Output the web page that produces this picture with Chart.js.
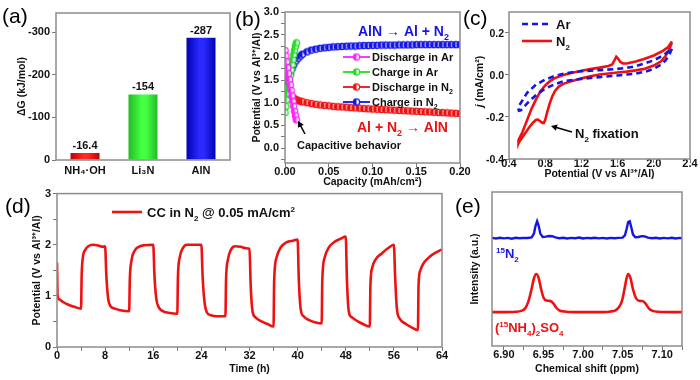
<!DOCTYPE html>
<html><head><meta charset="utf-8">
<script src="https://cdn.jsdelivr.net/npm/chart.js@4.4.1/dist/chart.umd.min.js"></script>
<style>
html,body{margin:0;padding:0;background:#fff;}
#wrap{position:relative;width:700px;height:380px;overflow:hidden;background:#fff;}
canvas{position:absolute;}
.pl{position:absolute;font:21px "Liberation Sans",Arial,sans-serif;line-height:1;color:#000;pointer-events:none;}
.tl{position:absolute;font:bold 10.5px "Liberation Sans",Arial,sans-serif;line-height:14px;height:14px;color:#111;text-align:right;white-space:nowrap;z-index:5;}
</style></head><body>
<div id="wrap">
<canvas id="ca" style="left:0;top:0" width="236" height="185"></canvas>
<canvas id="cb" style="left:236px;top:0" width="240" height="192"></canvas>
<canvas id="cc" style="left:468px;top:0" width="232" height="192"></canvas>
<canvas id="cd" style="left:0;top:185px" width="460" height="195"></canvas>
<canvas id="ce" style="left:460px;top:185px" width="240" height="195"></canvas>
<div class="pl" style="left:2px;top:5px">(a)</div>
<div class="pl" style="left:235px;top:8px">(b)</div>
<div class="pl" style="left:463px;top:7px">(c)</div>
<div class="pl" style="left:5px;top:195px">(d)</div>
<div class="pl" style="left:455px;top:195px">(e)</div>
</div>
<script>
// ---------- (a) formation energies ----------
const compounds = ['NH₄·OH', 'Li₃N', 'AlN'];
const deltaG = [-16.4, -154, -287];
const deltaGLabels = ['-16.4', '-154', '-287'];

// ---------- (b) galvanostatic curves ----------
const capAr = [0, 0.001, 0.002, 0.003, 0.004, 0.005, 0.006, 0.007, 0.008, 0.009, 0.010, 0.011, 0.012, 0.013];
const dischargeAr = [2.15, 2.03, 1.90, 1.77, 1.64, 1.51, 1.39, 1.27, 1.15, 1.03, 0.92, 0.81, 0.71, 0.62];
const chargeAr = [0.78, 0.92, 1.06, 1.20, 1.34, 1.47, 1.60, 1.72, 1.84, 1.95, 2.06, 2.16, 2.25, 2.32];
const capN2 = [0, 0.0015, 0.003, 0.0045, 0.006, 0.008, 0.01, 0.0125, 0.015, 0.0175, 0.02,
  0.025, 0.03, 0.035, 0.04, 0.045, 0.05, 0.055, 0.06, 0.065, 0.07,
  0.075, 0.08, 0.085, 0.09, 0.095, 0.1,
  0.105, 0.11, 0.115, 0.12, 0.125, 0.13, 0.135, 0.14, 0.145, 0.15,
  0.155, 0.16, 0.165, 0.17, 0.175, 0.18, 0.185, 0.19, 0.195, 0.2];
const dischargeN2 = [1.50, 1.36, 1.27, 1.21, 1.17, 1.13, 1.10, 1.07, 1.05, 1.03, 1.02,
  1.00, 0.98, 0.965, 0.95, 0.94, 0.93, 0.92, 0.91, 0.905, 0.90,
  0.89, 0.885, 0.88, 0.87, 0.865, 0.86,
  0.855, 0.85, 0.845, 0.84, 0.835, 0.83, 0.825, 0.82, 0.815, 0.81,
  0.805, 0.80, 0.795, 0.79, 0.785, 0.78, 0.775, 0.77, 0.765, 0.76];
const chargeN2 = [1.18, 1.32, 1.45, 1.56, 1.65, 1.75, 1.84, 1.92, 1.98, 2.03, 2.07,
  2.12, 2.16, 2.18, 2.20, 2.21, 2.22, 2.23, 2.235, 2.24, 2.245,
  2.25, 2.25, 2.255, 2.26, 2.26, 2.265,
  2.265, 2.27, 2.27, 2.27, 2.27, 2.275, 2.275, 2.275, 2.275, 2.28,
  2.28, 2.28, 2.28, 2.28, 2.28, 2.28, 2.28, 2.28, 2.28, 2.28];
const bTicksY = [0, 0.5, 1, 1.5, 2, 2.5, 3];

// ---------- (c) cyclic voltammetry ----------
const cTicksY = [-0.4, -0.2, 0, 0.2];
const cvArE = [2.2, 2.17, 2.13, 2.08, 2.0, 1.9, 1.8, 1.7, 1.6, 1.5, 1.4, 1.3, 1.2, 1.1, 1.0, 0.9, 0.8, 0.7, 0.65, 0.6, 0.56, 0.53, 0.51,
  0.5, 0.52, 0.55, 0.6, 0.7, 0.8, 0.9, 1.0, 1.1, 1.2, 1.4, 1.6, 1.7, 1.8, 1.9, 2.0, 2.1, 2.2];
const cvArJ = [0.125, 0.095, 0.07, 0.05, 0.03, 0.015, 0.007, 0.002, -0.002, -0.006, -0.01, -0.014, -0.019, -0.024, -0.03, -0.045, -0.065, -0.095, -0.115, -0.135, -0.155, -0.168, -0.17,
  -0.155, -0.14, -0.12, -0.085, -0.045, -0.022, -0.005, 0.006, 0.013, 0.018, 0.023, 0.029, 0.034, 0.042, 0.055, 0.07, 0.092, 0.125];
const cvN2E = [2.2, 2.17, 2.13, 2.08, 2.0, 1.9, 1.8, 1.7, 1.6, 1.5, 1.4, 1.3, 1.2, 1.1, 1.0, 0.95, 0.91, 0.88, 0.85, 0.82, 0.8, 0.785, 0.77, 0.75, 0.72, 0.7, 0.67, 0.63, 0.59, 0.55, 0.51, 0.5,
  0.51, 0.55, 0.6, 0.65, 0.7, 0.75, 0.8, 0.85, 0.9, 1.0, 1.1, 1.2, 1.3, 1.4, 1.5, 1.54, 1.565, 1.585, 1.605, 1.63, 1.66, 1.7, 1.8, 1.9, 2.0, 2.1, 2.16, 2.2];
const cvN2J = [0.155, 0.12, 0.09, 0.065, 0.045, 0.03, 0.022, 0.016, 0.012, 0.007, 0.002, -0.006, -0.016, -0.028, -0.042, -0.055, -0.075, -0.1, -0.135, -0.18, -0.215, -0.228, -0.228, -0.222, -0.212, -0.213, -0.225, -0.245, -0.27, -0.295, -0.32, -0.325,
  -0.31, -0.27, -0.215, -0.16, -0.115, -0.076, -0.05, -0.03, -0.016, 0.0, 0.011, 0.02, 0.028, 0.035, 0.043, 0.05, 0.07, 0.087, 0.078, 0.062, 0.055, 0.055, 0.064, 0.077, 0.093, 0.115, 0.133, 0.16];

// ---------- (d) constant-current cycling ----------
const ccTime = [0, 0.1, 0.4, 1, 2, 3, 4,
  4.1, 4.3, 4.7, 5.2, 6, 7, 7.6, 8,
  8.2, 8.5, 8.9, 9.6, 10.5, 12,
  12.1, 12.4, 12.9, 13.6, 14.5, 16,
  16.2, 16.5, 16.9, 17.6, 18.5, 20,
  20.1, 20.4, 20.9, 21.6, 23, 24,
  24.2, 24.5, 24.9, 25.6, 26.5, 28,
  28.1, 28.4, 28.9, 29.6, 30.5, 31.5, 32,
  32.2, 32.5, 33, 34, 35, 36,
  36.1, 36.5, 37.2, 38.2, 39.2, 40,
  40.2, 40.5, 41, 42, 43, 44,
  44.1, 44.5, 45.2, 46.2, 47.2, 48,
  48.2, 48.5, 49, 50, 51, 52,
  52.1, 52.4, 53, 54, 55, 56,
  56.2, 56.5, 57, 58, 59, 60,
  60.1, 60.4, 61, 62, 63, 64];
const ccPotential = [1.65, 1.0, 0.93, 0.88, 0.82, 0.78, 0.75,
  1.4, 1.75, 1.9, 1.97, 2.0, 1.98, 1.96, 1.97,
  1.4, 0.95, 0.8, 0.75, 0.72, 0.7,
  1.3, 1.7, 1.88, 1.96, 1.99, 2.0,
  1.4, 0.95, 0.78, 0.7, 0.67, 0.65,
  1.35, 1.75, 1.93, 2.0, 2.0, 2.0,
  1.4, 0.9, 0.68, 0.62, 0.6, 0.6,
  1.3, 1.7, 1.9, 1.97, 1.96, 1.93, 1.92,
  1.2, 0.7, 0.58, 0.5, 0.45, 0.4,
  1.3, 1.75, 1.95, 2.05, 2.08, 2.1,
  1.3, 0.75, 0.6, 0.52, 0.48, 0.46,
  1.3, 1.75, 1.95, 2.06, 2.12, 2.16,
  1.3, 0.7, 0.58, 0.5, 0.44, 0.4,
  1.2, 1.55, 1.72, 1.83, 1.93, 2.0,
  1.4, 0.75, 0.55, 0.45, 0.38, 0.33,
  1.2, 1.5, 1.65, 1.77, 1.85, 1.91];

// ---------- (e) 1H NMR ----------
const shiftN2 = [6.885, 6.89, 6.895, 6.90, 6.905, 6.91, 6.915, 6.92, 6.925, 6.93, 6.935, 6.938, 6.940, 6.942, 6.944, 6.946, 6.949, 6.953, 6.957, 6.961, 6.965,
  6.97, 6.975, 6.98, 6.985, 6.99, 6.995, 7.0, 7.005, 7.01, 7.015, 7.02, 7.025, 7.03, 7.035, 7.04, 7.045, 7.05, 7.053, 7.055, 7.057, 7.059, 7.061, 7.063,
  7.066, 7.07, 7.074, 7.078, 7.082, 7.087, 7.092, 7.097, 7.102, 7.107, 7.112, 7.117, 7.122, 7.125];
const intensityN2 = [7.02, 6.98, 7.03, 6.99, 7.02, 6.97, 7.03, 7.0, 7.02, 7.01, 7.05, 7.3, 7.8, 8.1, 7.8, 7.3, 7.08, 7.1, 7.14, 7.13, 7.05,
  7.0, 7.03, 6.98, 7.02, 7.0, 7.04, 6.98, 7.02, 7.0, 7.03, 6.99, 7.02, 6.98, 7.02, 7.0, 7.02, 7.04, 7.2, 7.6, 8.05, 8.1, 7.7, 7.25,
  7.06, 7.08, 7.13, 7.12, 7.04, 7.0, 7.03, 6.98, 7.02, 6.99, 7.03, 6.98, 7.02, 7.0];
const shiftNH4 = [6.885, 6.90, 6.915, 6.922, 6.927, 6.931, 6.935, 6.938, 6.941, 6.944, 6.947, 6.950, 6.954, 6.958, 6.962, 6.966, 6.970, 6.976, 6.99,
  7.01, 7.025, 7.035, 7.041, 7.045, 7.049, 7.052, 7.055, 7.057, 7.060, 7.063, 7.067, 7.071, 7.075, 7.079, 7.083, 7.088, 7.095, 7.11, 7.125];
const intensityNH4 = [2.2, 2.2, 2.22, 2.28, 2.45, 2.9, 3.7, 4.4, 4.68, 4.4, 3.7, 3.15, 2.95, 2.93, 2.8, 2.5, 2.32, 2.24, 2.2,
  2.2, 2.2, 2.24, 2.32, 2.5, 2.9, 3.6, 4.4, 4.68, 4.4, 3.7, 3.1, 2.93, 2.92, 2.75, 2.45, 2.28, 2.22, 2.2, 2.2];

// ================= helpers =================
const FAM = '"Liberation Sans", Arial, Helvetica, sans-serif';
Chart.defaults.font.family = FAM;
Chart.defaults.font.size = 11;
Chart.defaults.font.weight = 'bold';
Chart.defaults.color = '#111';
Chart.defaults.animation = false;
Chart.defaults.plugins.legend.display = false;
Chart.defaults.plugins.tooltip.enabled = false;

const RED = '#ee1111', BLUE = '#1515e6', GREEN = '#22dd22', MAG = '#ff22ff';
const pts = (xs, ys) => xs.map((x, i) => ({x: x, y: ys[i]}));
const near = (v, s) => Math.abs(v / s - Math.round(v / s)) < 1e-6;
const gridT = {display: true, drawOnChartArea: false, drawTicks: true, tickLength: 4, color: '#777', lineWidth: 1};
const noBorder = {display: false};

Chart.register({id: 'frame', afterDatasetsDraw(chart) {
  const a = chart.chartArea, c = chart.ctx;
  c.save(); c.strokeStyle = '#8c8c8c'; c.lineWidth = 1.5;
  c.strokeRect(a.left, a.top, a.right - a.left, a.bottom - a.top); c.restore();
}});

function parse(s) {
  const out = []; const re = /(_\{[^}]*\}|\^\{[^}]*\})/;
  s.split(re).forEach(p => {
    if (!p) return;
    if (p.startsWith('_{')) out.push([p.slice(2, -1), 1]);
    else if (p.startsWith('^{')) out.push([p.slice(2, -1), 2]);
    else out.push([p, 0]);
  });
  return out;
}
function rich(ctx, x, y, s, size, color, align) {
  const parts = parse(s);
  const f = m => 'bold ' + (m ? Math.round(size * 0.65) : size) + 'px ' + FAM;
  let w = 0;
  parts.forEach(([t, m]) => { ctx.font = f(m); w += ctx.measureText(t).width; });
  let cx = align === 'center' ? x - w / 2 : align === 'right' ? x - w : x;
  ctx.save(); ctx.fillStyle = color; ctx.textBaseline = 'alphabetic'; ctx.textAlign = 'left';
  parts.forEach(([t, m]) => {
    ctx.font = f(m);
    const dy = m === 1 ? size * 0.28 : m === 2 ? -size * 0.4 : 0;
    ctx.fillText(t, cx, y + dy); cx += ctx.measureText(t).width;
  });
  ctx.restore();
}
function arrow(ctx, x1, y1, x2, y2) {
  const a = Math.atan2(y2 - y1, x2 - x1), h = 6;
  ctx.save(); ctx.strokeStyle = '#000'; ctx.fillStyle = '#000'; ctx.lineWidth = 1.5;
  ctx.beginPath(); ctx.moveTo(x1, y1); ctx.lineTo(x2 - h * 0.8 * Math.cos(a), y2 - h * 0.8 * Math.sin(a)); ctx.stroke();
  ctx.beginPath(); ctx.moveTo(x2, y2);
  ctx.lineTo(x2 - h * Math.cos(a) + h * 0.55 * Math.sin(a), y2 - h * Math.sin(a) - h * 0.55 * Math.cos(a));
  ctx.lineTo(x2 - h * Math.cos(a) - h * 0.55 * Math.sin(a), y2 - h * Math.sin(a) + h * 0.55 * Math.cos(a));
  ctx.closePath(); ctx.fill(); ctx.restore();
}
function halfMarker(color) {
  const c = document.createElement('canvas'); c.width = 9; c.height = 9;
  const g = c.getContext('2d'), r = 3.2;
  g.beginPath(); g.arc(4.5, 4.5, r, 0, Math.PI * 2); g.fillStyle = '#fff'; g.fill();
  g.beginPath(); g.moveTo(4.5, 4.5 - r); g.arc(4.5, 4.5, r, -Math.PI / 2, Math.PI / 2, true); g.closePath(); g.fillStyle = color; g.fill();
  g.beginPath(); g.arc(4.5, 4.5, r, 0, Math.PI * 2); g.strokeStyle = color; g.lineWidth = 1.2; g.stroke();
  return c;
}
const yFit = w => ({afterFit: s => { s.width = w; }});
const xFit = h => ({afterFit: s => { s.height = h; }});

// ================= (a) =================
const barGrad = [['#b80000', '#ff2a2a'], ['#22b822', '#44ff44'], ['#0000b0', '#2a2aff']];
new Chart(document.getElementById('ca'), {
  type: 'bar',
  data: {labels: compounds, datasets: [{data: deltaG, barPercentage: 0.5, categoryPercentage: 1,
    backgroundColor: ctx => {
      const ch = ctx.chart, sx = ch.scales && ch.scales.x;
      const cols = barGrad[ctx.dataIndex % 3];
      if (!ch.chartArea || !sx) return cols[1];
      const xc = sx.getPixelForValue(ctx.dataIndex);
      const g = ch.ctx.createLinearGradient(xc - 15, 0, xc + 15, 0);
      g.addColorStop(0, cols[0]); g.addColorStop(0.45, cols[1]); g.addColorStop(0.6, cols[1]); g.addColorStop(1, cols[0]);
      return g;
    }}]},
  options: {responsive: false, layout: {padding: {left: 0, top: 13, right: 6, bottom: 0}},
    scales: {
      x: Object.assign({grid: {display: false, drawTicks: false}, border: noBorder, ticks: {padding: 4, maxRotation: 0, minRotation: 0}}, xFit(25)),
      y: Object.assign({reverse: true, min: -345, max: 0, grid: gridT, border: noBorder,
        ticks: {stepSize: 100, includeBounds: false, padding: 2},
        title: {display: true, text: 'ΔG (kJ/mol)', font: {size: 10.5}, padding: {top: 15.5, bottom: 0}}}, yFit(56))
    }},
  plugins: [{id: 'vals', afterDatasetsDraw(chart) {
    const c = chart.ctx, m = chart.getDatasetMeta(0);
    m.data.forEach((el, i) => rich(c, el.x, el.y - 4, deltaGLabels[i], 11, '#111', 'center'));
  }}]
});

// ================= (b) =================
const mk = {m: halfMarker(MAG), g: halfMarker(GREEN), r: halfMarker(RED), b: halfMarker(BLUE)};
const lineB = (data, col, img) => ({data: data, borderColor: col, backgroundColor: col, showLine: true, borderWidth: 1.5,
  pointStyle: img, pointRadius: 3, tension: 0});
new Chart(document.getElementById('cb'), {
  type: 'scatter',
  data: {datasets: [
    lineB(pts(capAr, dischargeAr), MAG, mk.m),
    lineB(pts(capAr, chargeAr), GREEN, mk.g),
    lineB(pts(capN2, chargeN2), BLUE, mk.b),
    lineB(pts(capN2, dischargeN2), RED, mk.r)
  ]},
  options: {responsive: false, layout: {padding: {left: 0, top: 12, right: 16, bottom: 0}},
    scales: {
      x: Object.assign({type: 'linear', min: 0, max: 0.2, grid: gridT, border: noBorder,
        ticks: {stepSize: 0.05, padding: -2, maxRotation: 0, minRotation: 0, callback: v => v.toFixed(2)},
        title: {display: true, text: 'Capacity (mAh/cm²)', font: {size: 10.5}, padding: {top: 0, bottom: 4}}}, xFit(29)),
      y: Object.assign({min: -0.33, max: 3.0, grid: gridT, border: noBorder,
        ticks: {stepSize: 0.25, includeBounds: false, padding: 2, autoSkip: false,
          callback: v => (near(v, 0.5) && bTicksY.some(t => Math.abs(t - v) < 1e-6)) ? v.toFixed(1) : ''},
        title: {display: true, text: 'Potential (V vs Al³⁺/Al)', font: {size: 10.5}, padding: {top: 15, bottom: 0}}}, yFit(49))
    }},
  plugins: [{id: 'annB', afterDraw(chart) {
    const c = chart.ctx;
    const items = [['Discharge in Ar', MAG, mk.m, 57], ['Charge in Ar', GREEN, mk.g, 72], ['Discharge in N_{2}', RED, mk.r, 87], ['Charge in N_{2}', BLUE, mk.b, 102]];
    items.forEach(([t, col, img, y]) => {
      c.save(); c.strokeStyle = col; c.lineWidth = 1.8; c.beginPath(); c.moveTo(107, y); c.lineTo(134, y); c.stroke(); c.restore();
      c.drawImage(img, 120.5 - 4.5, y - 4.5);
      rich(c, 136, y + 4, t, 11, '#111', 'left');
    });
    rich(c, 122, 36, 'AlN → Al + N_{2}', 14, BLUE, 'left');
    rich(c, 121, 132, 'Al + N_{2} → AlN', 14, RED, 'left');
    rich(c, 61, 149, 'Capacitive behavior', 11, '#111', 'left');
    arrow(c, 69, 134, 62, 121);
  }}]
});

// ================= (c) =================
const chartC = new Chart(document.getElementById('cc'), {
  type: 'scatter',
  data: {datasets: [
    {data: pts(cvArE, cvArJ), borderColor: BLUE, showLine: true, borderWidth: 2.6, borderDash: [6, 4], pointRadius: 0, tension: 0},
    {data: pts(cvN2E, cvN2J), borderColor: RED, showLine: true, borderWidth: 2.6, pointRadius: 0, tension: 0}
  ]},
  options: {responsive: false, layout: {padding: {left: 0, top: 12, right: 10, bottom: 0}},
    scales: {
      x: Object.assign({type: 'linear', min: 0.4, max: 2.4, grid: gridT, border: noBorder,
        ticks: {stepSize: 0.4, padding: -6, maxRotation: 0, minRotation: 0, callback: v => v.toFixed(1)},
        title: {display: true, text: 'Potential (V vs Al³⁺/Al)', font: {size: 10.5}, padding: {top: 0, bottom: 12}}}, xFit(33)),
      y: Object.assign({min: -0.4, max: 0.3, grid: gridT, border: noBorder,
        afterBuildTicks: s => { s.ticks = cTicksY.map(v => ({value: v})); },
        ticks: {display: false},
        title: {display: false}}, yFit(41))
    }},
  plugins: [{id: 'annC', afterDraw(chart) {
    const c = chart.ctx, a = chart.chartArea;
    c.save(); c.translate(12, (a.top + a.bottom) / 2 - 4); c.rotate(-Math.PI / 2);
    c.textBaseline = 'middle'; c.fillStyle = '#111';
    c.font = 'italic bold 10.5px ' + FAM; const wj = c.measureText('j ').width;
    c.font = 'bold 10.5px ' + FAM; const wr = c.measureText('(mA/cm²)').width;
    const x0 = -(wj + wr) / 2;
    c.font = 'italic bold 10.5px ' + FAM; c.fillText('j ', x0, 0);
    c.font = 'bold 10.5px ' + FAM; c.fillText('(mA/cm²)', x0 + wj, 0);
    c.restore();
    c.save(); c.lineWidth = 2.6;
    c.strokeStyle = BLUE; c.setLineDash([6, 4]); c.beginPath(); c.moveTo(54, 24); c.lineTo(84, 24); c.stroke();
    c.strokeStyle = RED; c.setLineDash([]); c.beginPath(); c.moveTo(54, 41); c.lineTo(84, 41); c.stroke(); c.restore();
    rich(c, 88, 29, 'Ar', 13, '#111', 'left');
    rich(c, 88, 46, 'N_{2}', 13, '#111', 'left');
    rich(c, 107, 138, 'N_{2} fixation', 13, '#111', 'left');
    arrow(c, 104, 132, 83, 126);
  }}]
});
// (c) y tick labels placed from the chart's own y scale, as text on top of the page
(function () {
  const wrap = document.getElementById('wrap');
  const sy = chartC.scales.y, a = chartC.chartArea;
  const canvasLeft = 468, canvasTop = 0;
  cTicksY.forEach(v => {
    const d = document.createElement('div');
    d.className = 'tl';
    d.textContent = v.toFixed(1);
    d.style.right = (700 - (canvasLeft + a.left - 5)) + 'px';
    d.style.top = (canvasTop + sy.getPixelForValue(v) - 7) + 'px';
    wrap.appendChild(d);
  });
})();

// ================= (d) =================
new Chart(document.getElementById('cd'), {
  type: 'scatter',
  data: {datasets: [{data: pts(ccTime, ccPotential), borderColor: RED, showLine: true, borderWidth: 2.6, pointRadius: 0,
    cubicInterpolationMode: 'monotone'}]},
  options: {responsive: false, layout: {padding: {left: 0, top: 7, right: 18, bottom: 0}},
    scales: {
      x: Object.assign({type: 'linear', min: 0, max: 64, grid: gridT, border: noBorder,
        ticks: {stepSize: 4, padding: -1.5, autoSkip: false, maxRotation: 0, minRotation: 0, callback: v => near(v, 8) ? String(Math.round(v)) : ''},
        title: {display: true, text: 'Time (h)', font: {size: 10.5}, padding: {top: 0, bottom: 5}}}, xFit(33)),
      y: Object.assign({min: 0, max: 3, grid: gridT, border: noBorder,
        ticks: {stepSize: 0.5, padding: 2, autoSkip: false, callback: v => near(v, 1) ? String(Math.round(v)) : ''},
        title: {display: true, text: 'Potential (V vs Al³⁺/Al)', font: {size: 10.5}, padding: {top: 31, bottom: 0}}}, yFit(57))
    }},
  plugins: [{id: 'annD', afterDraw(chart) {
    const c = chart.ctx;
    c.save(); c.strokeStyle = RED; c.lineWidth = 2.6; c.beginPath(); c.moveTo(112, 27); c.lineTo(142, 27); c.stroke(); c.restore();
    rich(c, 147, 32, 'CC in N_{2} @ 0.05 mA/cm^{2}', 13, '#111', 'left');
  }}]
});

// ================= (e) =================
new Chart(document.getElementById('ce'), {
  type: 'scatter',
  data: {datasets: [
    {data: pts(shiftN2, intensityN2), borderColor: BLUE, showLine: true, borderWidth: 2.4, pointRadius: 0, tension: 0},
    {data: pts(shiftNH4, intensityNH4), borderColor: RED, showLine: true, borderWidth: 2.6, pointRadius: 0, cubicInterpolationMode: 'monotone'}
  ]},
  options: {responsive: false, layout: {padding: {left: 0, top: 7, right: 18, bottom: 0}},
    scales: {
      x: Object.assign({type: 'linear', min: 6.885, max: 7.125, grid: gridT, border: noBorder,
        ticks: {stepSize: 0.025, includeBounds: false, padding: -1.5, autoSkip: false, maxRotation: 0, minRotation: 0,
          callback: v => near(v, 0.05) ? v.toFixed(2) : ''},
        title: {display: true, text: 'Chemical shift (ppm)', font: {size: 10.5}, padding: {top: 0, bottom: 5}}}, xFit(34)),
      y: Object.assign({min: 0, max: 10, grid: {display: false, drawTicks: false}, border: noBorder, ticks: {display: false},
        title: {display: true, text: 'Intensity (a.u.)', font: {size: 10.5}, padding: {top: 9, bottom: 0}}}, yFit(32))
    }},
  plugins: [{id: 'annE', afterDraw(chart) {
    const c = chart.ctx;
    rich(c, 36, 73, '^{15}N_{2}', 13, BLUE, 'left');
    rich(c, 35, 147, '(^{15}NH_{4})_{2}SO_{4}', 13, RED, 'left');
  }}]
});
</script>
</body></html>
